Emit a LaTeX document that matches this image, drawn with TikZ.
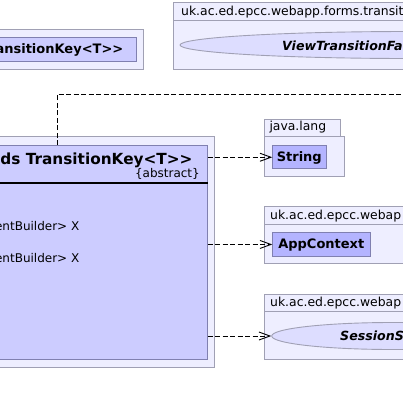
\documentclass[tikz,border=0pt]{standalone}
\usepackage{fontspec}
\setmainfont{DejaVu Sans}[Ligatures=TeXOff]
\usetikzlibrary{arrows.meta,shapes.geometric}
\definecolor{pkgfill}{RGB}{238,238,255}
\definecolor{pkgline}{RGB}{160,160,180}
\definecolor{clsfill}{RGB}{204,204,255}
\definecolor{clsline}{RGB}{128,128,176}
\definecolor{reffill}{RGB}{180,180,255}
\definecolor{ellfill}{RGB}{221,221,255}
\begin{document}
\begin{tikzpicture}[x=1bp,y=-1bp,
  pkg/.style={draw=pkgline,fill=pkgfill,line width=0.9bp},
  cls/.style={draw=clsline,fill=clsfill,line width=0.9bp,inner sep=0pt,anchor=north west},
  refbox/.style={draw=clsline,fill=reffill,line width=0.9bp,inner sep=0pt,anchor=north west},
  ell/.style={ellipse,draw=pkgline,fill=ellfill,line width=0.9bp,inner sep=0pt},
  plbl/.style={inner sep=0pt,font=\fontsize{12.4bp}{15bp}\selectfont},
  lbl/.style={inner sep=0pt,font=\fontsize{12bp}{14bp}\selectfont},
  bld/.style={inner sep=0pt,font=\fontsize{13bp}{15bp}\selectfont\bfseries},
  bit/.style={inner sep=0pt,font=\fontsize{12.6bp}{15bp}\selectfont\bfseries\itshape},
  ttl/.style={inner sep=0pt,font=\fontsize{15.3bp}{18bp}\selectfont\bfseries},
  dep/.style={draw=black,line width=0.9bp,dash pattern=on 5bp off 2.5bp},
  deparrow/.style={dep,-{Straight Barb[length=11bp,width=8bp,line width=0.9bp]}},
]
\useasboundingbox (0,0) rectangle (403,405);
\clip (0,0) rectangle (403,405);

% top-left package
\draw[pkg] (-5,29) rectangle (143.3,69.3);
\node[cls,minimum width=140.7bp,minimum height=23.7bp] (tk) at (-5,37.3) {};
\node[bld,anchor=base east] (tkt) at (123.5,53.8) {ansitionKey<T>>};

% top-right package
\draw[pkg] (173.3,2.7) rectangle (420,69);
\draw[pkg] (173.3,2.7) rectangle (420,20);
\node[plbl,anchor=base west] (p1) at (181,15.2) {uk.ac.ed.epcc.webapp.forms.transit};
\node[ell,minimum width=460bp,minimum height=27bp] (vtf) at (410,45) {};
\node[bit,anchor=base west] (vtft) at (282,50) {ViewTransitionFa};

% main package and class
\draw[pkg] (-5,136) rectangle (214.3,367);
\node[cls,minimum width=211.7bp,minimum height=214.3bp] (main) at (-5,145) {};
\node[ttl,anchor=base east] (mt) at (192.7,164) {ds TransitionKey<T>>};
\node[lbl,anchor=base east] (ma) at (200,177) {\{abstract\}};
\draw[line width=2bp] (main.west |- 0,183.3) -- (main.east |- 0,183.3);
\node[lbl,anchor=base east] (m1) at (79.5,230) {entBuilder> X};
\node[lbl,anchor=base east] (m2) at (79.5,262.7) {entBuilder> X};

% java.lang package
\draw[pkg] (264.3,119.3) rectangle (340,136);
\draw[pkg] (264.3,136) rectangle (344.3,176);
\node[plbl,anchor=base west] (p2) at (269.3,130.5) {java.lang};
\node[refbox,minimum width=54bp,minimum height=23bp] (str) at (272.3,145.3) {};
\node[bld,anchor=base] (strt) at (299.3,161.7) {String};

% AppContext package
\draw[pkg] (264.3,206.5) rectangle (420,263.3);
\draw[pkg] (264.3,206.5) rectangle (420,224.3);
\node[plbl,anchor=base west] (p3) at (270,219.5) {uk.ac.ed.epcc.webap};
\node[refbox,minimum width=98bp,minimum height=23.4bp] (app) at (272.3,232.3) {};
\node[bld,anchor=base] (appt) at (321.3,248.7) {AppContext};

% SessionService package
\draw[pkg] (264.3,294) rectangle (420,359.3);
\draw[pkg] (264.3,294) rectangle (420,311.5);
\node[plbl,anchor=base west] (p4) at (270,306.9) {uk.ac.ed.epcc.webap};
\node[ell,minimum width=242bp,minimum height=27bp] (ss) at (392.7,336) {};
\node[bit,anchor=base west] (sst) at (340,340.8) {SessionS};

% connectors
\draw[deparrow] (main.east |- str.west) -- (str.west);
\draw[deparrow] (main.east |- app.west) -- (app.west);
\draw[deparrow] (main.east |- ss.west) -- (ss.west);
\coordinate (bend) at (57,94);
\coordinate (farend) at (420,94);
\draw[dep] (main.north -| bend) -- (bend) -- (farend);
\end{tikzpicture}
\end{document}
